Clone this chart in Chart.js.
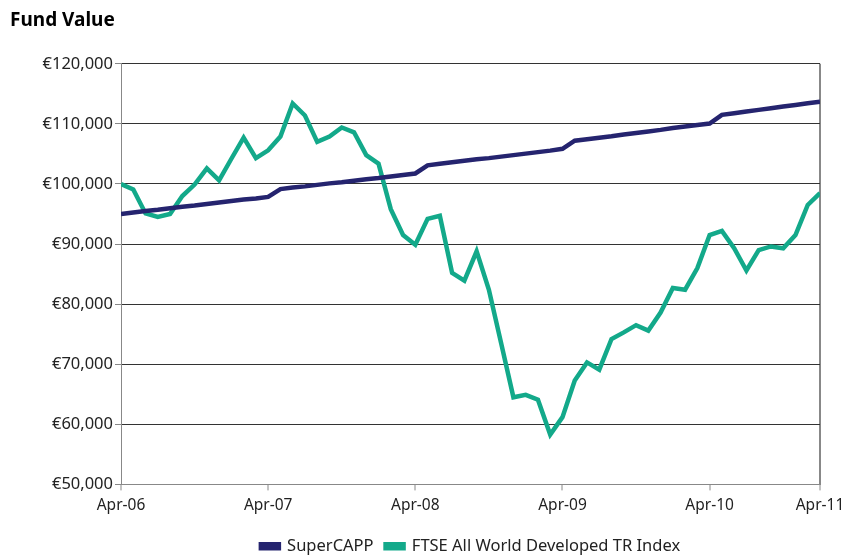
<!DOCTYPE html>
<html>
<head>
<meta charset="utf-8">
<title>Fund Value</title>
<script src="https://cdn.jsdelivr.net/npm/chart.js@4"></script>
<style>
  body { margin: 0; background: #fff; }
  #wrap { width: 856px; height: 556px; position: relative; }
</style>
</head>
<body>
<div id="wrap"><canvas id="graf"></canvas></div>
<script>
// tick labels on the x axis and where they sit (months from Apr-06)
const tickLabels = ['Apr-06', 'Apr-07', 'Apr-08', 'Apr-09', 'Apr-10', 'Apr-11'];
const tickPos = [0, 12, 24, 36, 48, 57];

const seriesNames = ['SuperCAPP', 'FTSE All World Developed TR Index'];

// monthly values
const superCapp = [
  95000, 95250, 95500, 95700, 95950, 96200, 96400, 96650, 96900, 97150, 97400, 97600, 97850,
  99150, 99400, 99600, 99850, 100100, 100300, 100550, 100800, 101000, 101250, 101500, 101750,
  103100, 103350, 103600, 103850, 104100, 104300, 104550, 104800, 105050, 105300, 105550, 105850,
  107200, 107450, 107700, 107950, 108250, 108500, 108750, 109000, 109300, 109550, 109800, 110050,
  111500, 111780, 112050, 112330, 112600, 112880, 113150, 113430, 113700
];

const ftse = [
  100000, 99100, 95100, 94500, 95000, 98000, 99900, 102600, 100600, 104200, 107700, 104300, 105600,
  107900, 113400, 111400, 107000, 107900, 109400, 108600, 104800, 103400, 95800, 91500, 89900,
  94200, 94700, 85200, 83900, 88800, 82400, 73500, 64500, 64900, 64100, 58300, 61200,
  67300, 70300, 69100, 74200, 75300, 76500, 75600, 78600, 82700, 82400, 86000, 91500,
  92200, 89300, 85600, 89000, 89600, 89300, 91500, 96500, 98500
];

const blue = '#25246f';
const green = '#13a98a';

function toPoints(vals) {
  return vals.map((v, i) => ({ x: i, y: v }));
}

// legenden centreras under själva plottytan
const legendUnderPlot = {
  id: 'legendUnderPlot',
  afterLayout(chart) {
    chart.legend.left = chart.chartArea.left;
    chart.legend.right = chart.chartArea.right;
  }
};

const ctx = document.getElementById('graf').getContext('2d');

const data = {
  datasets: [
    {
      label: seriesNames[0],
      data: toPoints(superCapp),
      borderColor: blue,
      backgroundColor: blue,
      borderWidth: 4.5,
      pointRadius: 0,
      tension: 0
    },
    {
      label: seriesNames[1],
      data: toPoints(ftse),
      borderColor: green,
      backgroundColor: green,
      borderWidth: 4.5,
      pointRadius: 0,
      tension: 0
    }
  ]
};

const config = {
  type: 'line',
  data: data,
  plugins: [legendUnderPlot],
  options: {
    responsive: true,
    maintainAspectRatio: false,
    animation: false,
    layout: { padding: { left: 10, right: 36, top: 0, bottom: 0 } },
    plugins: {
      title: {
        display: true,
        text: 'Fund Value',
        align: 'start',
        color: '#000',
        font: { family: 'Noto Sans', size: 19, weight: 'bold' },
        padding: { top: 9, bottom: 32 }
      },
      legend: {
        position: 'bottom',
        maxHeight: 30,
        labels: {
          color: '#222',
          font: { family: 'Noto Sans', size: 16.5 },
          boxWidth: 18,
          boxHeight: 4,
          padding: 12
        }
      },
      tooltip: { enabled: false }
    },
    scales: {
      x: {
        type: 'linear',
        min: 0,
        max: 57,
        afterBuildTicks: axis => {
          axis.ticks = tickPos.map(v => ({ value: v }));
        },
        afterFit: axis => {
          axis.height += 5;
        },
        ticks: {
          autoSkip: false,
          maxRotation: 0,
          color: '#222',
          font: { family: 'Noto Sans', size: 15.5 },
          padding: 6,
          callback: (val, i) => tickLabels[i]
        },
        grid: {
          drawOnChartArea: true,
          color: c => c.index === tickPos.length - 1 ? '#888' : 'rgba(0,0,0,0)',
          lineWidth: 2,
          tickColor: '#888',
          tickLength: 6,
          tickWidth: 1
        },
        border: { color: '#888', width: 1 }
      },
      y: {
        min: 50000,
        max: 120000,
        afterFit: axis => {
          axis.width = 111;
        },
        ticks: {
          stepSize: 10000,
          color: '#222',
          font: { family: 'Noto Sans', size: 16.5 },
          padding: 2,
          callback: v => '€' + v.toLocaleString('en-US')
        },
        grid: {
          color: '#333',
          lineWidth: 1,
          tickColor: '#888',
          tickLength: 6
        },
        border: { color: '#888', width: 1 }
      }
    }
  }
};

new Chart(ctx, config);
</script>
</body>
</html>
